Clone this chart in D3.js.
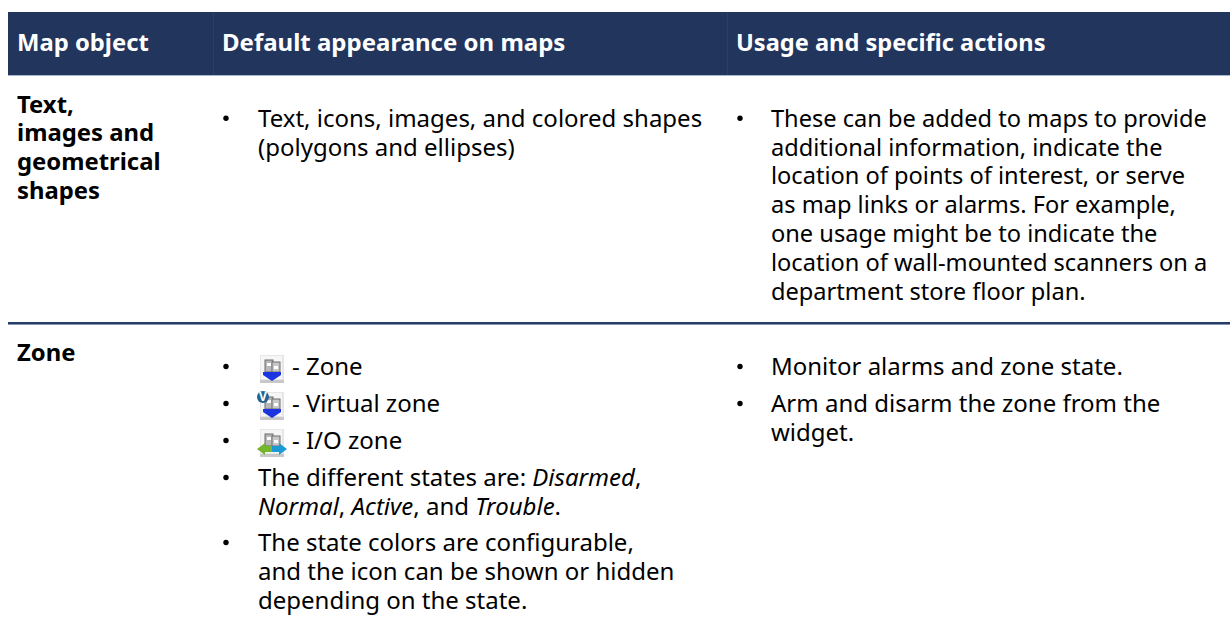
<!DOCTYPE html>
<html>
<head>
<meta charset="utf-8">
<script src="https://cdn.jsdelivr.net/npm/d3@7"></script>
<style>
body { margin: 0; background: #fff; }
text { font-family: "Noto Sans", sans-serif; }
</style>
</head>
<body>
<div id="table"></div>
<script>
var headers = ["Map object", "Default appearance on maps", "Usage and specific actions"];
var rowLabels = [["Text,", "images and", "geometrical", "shapes"], ["Zone"]];

var row1Appearance = [["Text, icons, images, and colored shapes", "(polygons and ellipses)"]];
var row1Usage = [["These can be added to maps to provide", "additional information, indicate the", "location of points of interest, or serve", "as map links or alarms. For example,", "one usage might be to indicate the", "location of wall-mounted scanners on a", "department store floor plan."]];
var zoneIcons = ["- Zone", "- Virtual zone", "- I/O zone"];
var zoneStates = [[["The different states are: ", "n"], ["Disarmed", "i"], [",", "n"]],
  [["Normal", "i"], [", ", "n"], ["Active", "i"], [", and ", "n"], ["Trouble", "i"], [".", "n"]]];
var zoneColors = ["The state colors are configurable,", "and the icon can be shown or hidden", "depending on the state."];
var row2Usage = [["Monitor alarms and zone state."], ["Arm and disarm the zone from the", "widget."]];

var width = 1230, height = 627;
var svg = d3.select("#table").append("svg").attr("width", width).attr("height", height);

svg.append("defs").append("filter").attr("id", "soft")
  .append("feGaussianBlur").attr("stdDeviation", 0.45);

var navy = "#22355d";
var fs = 24, lh = 28.8;

// header band
svg.append("rect").attr("x", 8).attr("y", 12).attr("width", 1222).attr("height", 63).attr("fill", navy);
svg.append("rect").attr("x", 8).attr("y", 75).attr("width", 1222).attr("height", 1).attr("fill", "#a9b6cf");
[213, 727].forEach(function(x) {
  svg.append("rect").attr("x", x).attr("y", 12).attr("width", 1).attr("height", 63).attr("fill", "#2b3e68");
});

var colX = [17, 222, 736];
var headSize = [23.8, 24, 23.6];
svg.selectAll(".head").data(headers).enter().append("text")
  .attr("class", "head")
  .attr("x", function(d, i) { return colX[i]; })
  .attr("y", 51)
  .attr("font-size", function(d, i) { return headSize[i]; })
  .attr("font-weight", 700)
  .attr("fill", "#fff")
  .text(function(d) { return d; });

// row divider
svg.append("rect").attr("x", 8).attr("y", 322).attr("width", 1222).attr("height", 2).attr("fill", "#283c68");
svg.append("rect").attr("x", 8).attr("y", 324).attr("width", 1222).attr("height", 1).attr("fill", "#8593b3");

function label(lines, y0) {
  svg.selectAll(null).data(lines).enter().append("text")
    .attr("x", 17)
    .attr("y", function(d, i) { return y0 + i * lh; })
    .attr("font-size", 23.85).attr("font-weight", 700).attr("fill", "#000")
    .text(function(d) { return d; });
}
label(rowLabels[0], 112.6);
label(rowLabels[1], 360.6);

function bullet(x, y) {
  svg.append("circle").attr("cx", x).attr("cy", y - 8.5).attr("r", 2.7).attr("fill", "#000");
}
function line(x, y, d, size) {
  var t = svg.append("text").attr("x", x).attr("y", y).attr("font-size", size || fs).attr("fill", "#000");
  if (typeof d === "string") { t.text(d); return; }
  d.forEach(function(p) {
    t.append("tspan").attr("font-style", p[1] === "i" ? "italic" : "normal").text(p[0]);
  });
}

// simple bulleted blocks
function block(items, bx, tx, y0, gap, size) {
  var y = y0;
  items.forEach(function(lines) {
    bullet(bx, y);
    lines.forEach(function(l, i) { line(tx, y + i * lh, l, size); });
    y += lines.length * lh + gap;
  });
}
block(row1Appearance, 226, 258, 126.8, 0);
block(row1Usage, 740, 771, 126.8, 0, 23.6);
block(row2Usage, 740, 771, 375, 8.2);

// zone icon bullets
var iconY = [375, 412, 449];
iconY.forEach(function(y, i) {
  bullet(226, y);
  line(292, y, zoneIcons[i]);
  var g = svg.append("g").attr("transform", "translate(260," + (y - 20) + ")").attr("filter", "url(#soft)");
  g.append("rect").attr("width", 24).attr("height", 27).attr("fill", "#e6e6e6");
  g.append("rect").attr("x", 1).attr("y", 1).attr("width", 21).attr("height", 23).attr("fill", "#f6f6f6");
  g.append("rect").attr("y", 25).attr("width", 24).attr("height", 3).attr("fill", "#c8c8c8");
  // building
  g.append("rect").attr("x", 5).attr("y", 5).attr("width", 8).attr("height", 12).attr("fill", "#b8b8b8").attr("stroke", "#6d6d6d");
  g.append("rect").attr("x", 12).attr("y", 7).attr("width", 8).attr("height", 10).attr("fill", "#c8c8c8").attr("stroke", "#6d6d6d");
  g.append("rect").attr("x", 7).attr("y", 8).attr("width", 4).attr("height", 3).attr("fill", "#fff");
  g.append("rect").attr("x", 14).attr("y", 11).attr("width", 4).attr("height", 3).attr("fill", "#fff");
  if (i < 2) {
    g.append("path").attr("d", "M3,17H21V20L12,26L3,20Z").attr("fill", "#1a35e0");
  } else {
    g.append("path").attr("d", "M-3,20L5,14V17H12V23H5V26Z").attr("fill", "#74b62e");
    g.append("path").attr("d", "M27,20L19,14V17H12V23H19V26Z").attr("fill", "#1e9ad6");
  }
  if (i === 1) {
    svg.append("circle").attr("cx", 263).attr("cy", y - 15).attr("r", 6).attr("fill", "#1f6396");
    svg.append("text").attr("x", 263).attr("y", y - 11).attr("text-anchor", "middle").attr("font-size", 12).attr("font-weight", 700).attr("fill", "#fff").text("V");
  }
});

// remaining zone bullets
bullet(226, 486);
line(258, 486, zoneStates[0]);
line(258, 514.8, zoneStates[1]);
bullet(226, 551);
zoneColors.forEach(function(l, i) { line(258, 551 + i * lh, l); });
</script>
</body>
</html>
